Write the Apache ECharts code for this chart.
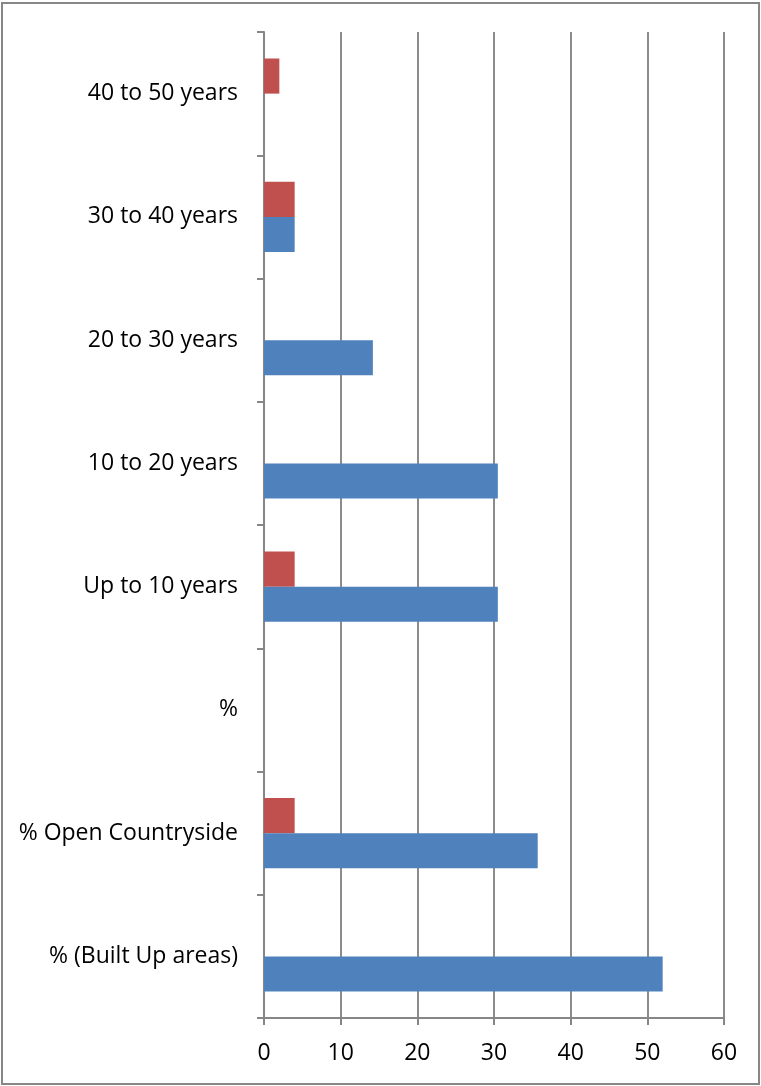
<!DOCTYPE html>
<html>
<head>
<meta charset="utf-8">
<script src="https://cdn.jsdelivr.net/npm/echarts@6/dist/echarts.min.js"></script>
<style>
html,body{margin:0;padding:0;background:#fff;}
#c{width:761px;height:1086px;}
</style>
</head>
<body>
<div id="c"></div>
<script>
var categories = ["% (Built Up areas)", "% Open Countryside", "%", "Up to 10 years", "10 to 20 years", "20 to 30 years", "30 to 40 years", "40 to 50 years"];
var blueValues = [52, 35.7, 0, 30.5, 30.5, 14.2, 4, 0];
var redValues = [0, 4, 0, 4, 0, 0, 4, 2];
var xTicks = [0, 10, 20, 30, 40, 50, 60];

var chart = echarts.init(document.getElementById('c'));
chart.setOption({
  animation: false,
  graphic: [{
    type: 'rect',
    shape: {x: 2, y: 3, width: 757, height: 1081},
    style: {fill: 'none', stroke: '#878787', lineWidth: 2},
    z: -1
  }],
  grid: {left: 264, right: 37, top: 32, bottom: 68, containLabel: false},
  xAxis: {
    type: 'value',
    min: xTicks[0],
    max: xTicks[xTicks.length - 1],
    interval: 10,
    axisLine: {show: true, lineStyle: {color: '#868686', width: 2}},
    axisTick: {show: true, length: 7, lineStyle: {color: '#868686', width: 2}},
    splitLine: {show: true, lineStyle: {color: '#8c8c8c', width: 2}},
    axisLabel: {color: '#000', fontSize: 23, fontFamily: 'Open Sans', margin: 24}
  },
  yAxis: {
    type: 'category',
    data: categories,
    axisLine: {show: true, lineStyle: {color: '#868686', width: 2}},
    axisTick: {show: true, length: 7, lineStyle: {color: '#868686', width: 2}},
    axisLabel: {color: '#000', fontSize: 23, fontFamily: 'Open Sans', margin: 26, padding: [5, 0, 0, 0]}
  },
  series: [{
    type: 'bar',
    data: redValues,
    itemStyle: {color: '#C0504D'},
    barGap: '0%',
    barCategoryGap: '43%'
  }, {
    type: 'bar',
    data: blueValues,
    itemStyle: {color: '#4F81BD'},
    barGap: '0%',
    barCategoryGap: '43%'
  }]
});
</script>
</body>
</html>
